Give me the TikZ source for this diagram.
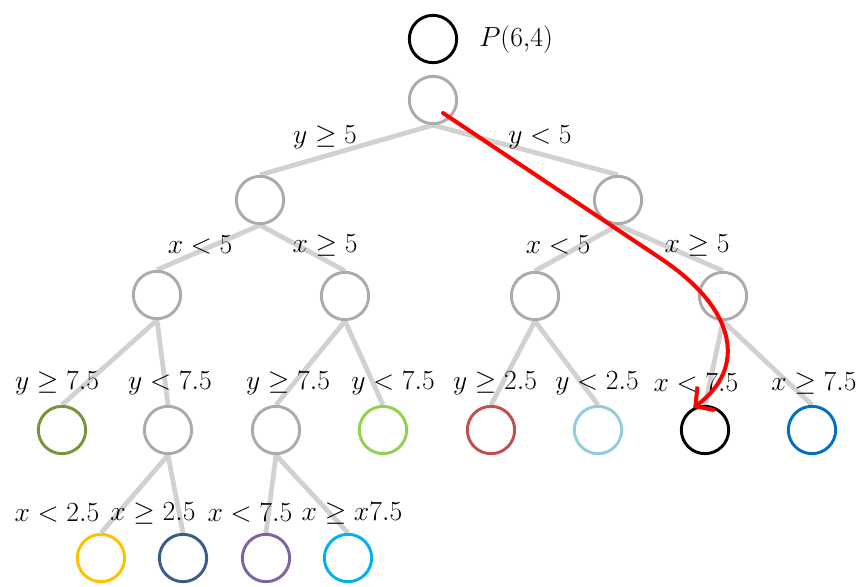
\documentclass[tikz,border=0pt]{standalone}
\usetikzlibrary{arrows.meta,backgrounds,calc}
\definecolor{leafolive}{HTML}{77933C}
\definecolor{leafgreen}{HTML}{92D050}
\definecolor{leafred}{HTML}{C0504D}
\definecolor{leafsky}{HTML}{93CDDD}
\definecolor{leafblue}{HTML}{0070C0}
\definecolor{leafyellow}{HTML}{FFC000}
\definecolor{leafnavy}{HTML}{385D8A}
\definecolor{leafpurple}{HTML}{8064A2}
\definecolor{leafcyan}{HTML}{00B0F0}
\definecolor{arrowred}{HTML}{FF0000}
\begin{document}
\begin{tikzpicture}[x=0.75pt,y=-0.75pt,
  treenode/.style={circle,draw=black!33,line width=2.2pt,minimum size=35.5pt,inner sep=0pt,fill=white},
  leaf/.style={treenode,draw=#1},
  treeedge/.style={draw=black!18,line width=3.6pt},
  lab/.style={font=\fontsize{21}{25}\selectfont,inner sep=0pt}]
\useasboundingbox (0,0) rectangle (864,586);
% nodes
\node[leaf=black] (p) at (433,39) {};
\node[lab,anchor=west] (plab) at (479,40) {$P(6{,}4)$};
\node[treenode] (root) at (433,100) {};
\node[treenode] (a) at (260,200) {};
\node[treenode] (b) at (618,200) {};
\node[treenode] (aa) at (157,295) {};
\node[treenode] (ab) at (345,296) {};
\node[treenode] (ba) at (535,296) {};
\node[treenode] (bb) at (723,296) {};
\node[leaf=leafolive] (aaa) at (62,430) {};
\node[treenode] (aab) at (168,430) {};
\node[treenode] (aba) at (276,430) {};
\node[leaf=leafgreen] (abb) at (383,430) {};
\node[leaf=leafred] (baa) at (491,430) {};
\node[leaf=leafsky] (bab) at (598,430) {};
\node[leaf=black] (bba) at (705,430) {};
\node[leaf=leafblue] (bbb) at (812,430) {};
\node[leaf=leafyellow] (aaba) at (101,558) {};
\node[leaf=leafnavy] (aabb) at (183,558) {};
\node[leaf=leafpurple] (abaa) at (266,558) {};
\node[leaf=leafcyan] (abab) at (348,558) {};
% edges
\begin{scope}[on background layer]
\foreach \u/\v in {root/a,root/b,a/aa,a/ab,b/ba,b/bb,aa/aaa,aa/aab,ab/aba,ab/abb,ba/baa,ba/bab,bb/bba,bb/bbb,aab/aaba,aab/aabb,aba/abaa,aba/abab}
  \draw[treeedge] (\u.south) -- (\v.north);
\end{scope}
% labels
\node[lab] (l1) at (325,137) {$y \geq 5$};
\node[lab] (l2) at (540,137) {$y < 5$};
\node[lab] (l3) at (200,245) {$x < 5$};
\node[lab] (l4) at (325,245) {$x \geq 5$};
\node[lab] (l5) at (558,245) {$x < 5$};
\node[lab] (l6) at (697,245) {$x \geq 5$};
\node[lab] (l7) at (57,383) {$y \geq 7.5$};
\node[lab] (l8) at (170,383) {$y < 7.5$};
\node[lab] (l9) at (288,383) {$y \geq 7.5$};
\node[lab] (l10) at (393,383) {$y < 7.5$};
\node[lab] (l11) at (495,383) {$y \geq 2.5$};
\node[lab] (l12) at (597,383) {$y < 2.5$};
\node[lab] (l13) at (696,383) {$x < 7.5$};
\node[lab] (l14) at (814,383) {$x \geq 7.5$};
\node[lab] (l15) at (57,513) {$x < 2.5$};
\node[lab] (l16) at (153,513) {$x \geq 2.5$};
\node[lab] (l17) at (250,513) {$x < 7.5$};
\node[lab] (l18) at (352,513) {$x \geq x7.5$};
% red path
\coordinate (rs) at ($(root)+(10,13)$);
\coordinate (rbend) at (660,258);
\draw[arrowred,line width=3pt,line cap=round,-{Straight Barb[length=10pt,width=22pt]}] (rs) -- (rbend) .. controls (740,311) and (745,370) .. (bba.118);
\end{tikzpicture}
\end{document}
